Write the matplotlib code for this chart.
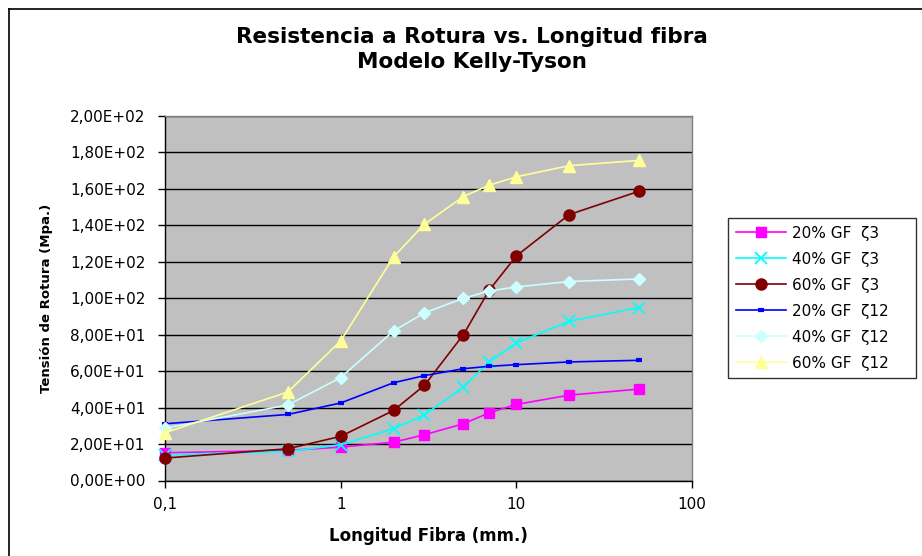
import matplotlib
matplotlib.use("Agg")
import matplotlib.pyplot as plt
from matplotlib.ticker import FixedLocator, FuncFormatter, NullLocator
from matplotlib.lines import Line2D

plt.rcParams['font.family'] = ['DejaVu Sans']

# Data
longitud = [0.1, 0.5, 1, 2, 3, 5, 7, 10, 20, 50]
gf20_z3 = [15.2, 16.5, 18.3, 21.0, 25.1, 31.1, 37.1, 41.7, 46.8, 50.1]
gf40_z3 = [14.1, 15.9, 19.6, 28.4, 36.0, 51.2, 65.0, 75.4, 87.3, 94.8]
gf60_z3 = [12.3, 17.4, 24.2, 38.4, 52.2, 80.0, 104.3, 123.1, 145.8, 158.6]
gf20_z12 = [31.1, 36.2, 42.5, 53.6, 57.5, 61.3, 62.6, 63.5, 65.0, 65.9]
gf40_z12 = [28.7, 41.4, 56.4, 82.0, 91.9, 99.9, 103.9, 106.1, 109.1, 110.5]
gf60_z12 = [26.2, 48.5, 76.5, 122.6, 140.5, 155.7, 161.9, 166.5, 172.6, 175.5]

labels = ["20% GF  ζ3", "40% GF  ζ3", "60% GF  ζ3",
          "20% GF  ζ12", "40% GF  ζ12", "60% GF  ζ12"]
series = [gf20_z3, gf40_z3, gf60_z3, gf20_z12, gf40_z12, gf60_z12]
x_ticks = [0.1, 1, 10, 100]
x_ticklabels = ["0,1", "1", "10", "100"]

styles = [
    dict(color="#FF00FF", marker="s", ms=7.5, mec="#FF00FF", mfc="#FF00FF", mew=1),
    dict(color="#00FFFF", marker="x", ms=8, mec="#00FFFF", mfc="#00FFFF", mew=1.3),
    dict(color="#800000", marker="o", ms=8, mec="#800000", mfc="#800000", mew=1),
    dict(color="#0000FF", marker="_", ms=5, mec="#0000FF", mfc="#0000FF", mew=3),
    dict(color="#CCFFFF", marker="D", ms=6.5, mec="#CCFFFF", mfc="#CCFFFF", mew=1),
    dict(color="#FFFF99", marker="^", ms=9, mec="#FFFF99", mfc="#FFFF99", mew=1),
]

fig = plt.figure(figsize=(9.22, 5.56), dpi=100)
fig.patch.set_facecolor("white")
ax = fig.add_axes([165/922, 1-480.5/556, (692-165)/922, (480.5-115.7)/556])
ax.set_facecolor("#C0C0C0")

for y, lab, st in zip(series, labels, styles):
    ax.plot(longitud, y, label=lab, lw=1.2, clip_on=False, zorder=3, **st)

ax.set_xscale("log")
ax.set_xlim(0.1, 100)
ax.set_ylim(0, 200)
ax.xaxis.set_major_locator(FixedLocator(x_ticks))
ax.xaxis.set_minor_locator(NullLocator())
ax.set_xticklabels(x_ticklabels)
ax.yaxis.set_major_locator(FixedLocator(list(range(0, 201, 20))))
ax.yaxis.set_major_formatter(FuncFormatter(lambda v, p: f"{v:.2E}".replace('.', ',')))
ax.grid(axis="y", color="black", lw=1.0, zorder=1)
ax.set_axisbelow(True)

for s in ["top", "right"]:
    ax.spines[s].set_color("#808080")
    ax.spines[s].set_linewidth(1.0)
for s in ["left", "bottom"]:
    ax.spines[s].set_color("black")
    ax.spines[s].set_linewidth(1.0)

ax.tick_params(axis="y", direction="out", length=5, width=1, labelsize=11, pad=9)
ax.tick_params(axis="x", direction="out", length=5, width=1, labelsize=11, pad=7)

ax.set_xlabel("Longitud Fibra (mm.)", fontsize=12, fontweight="bold", labelpad=11)
ax.set_ylabel("Tensión de Rotura (Mpa.)", fontsize=9.5, fontweight="bold", labelpad=12)

fig.text(472/922, 1-37/556, "Resistencia a Rotura vs. Longitud fibra",
         ha="center", va="center", fontsize=15.5, fontweight="bold")
fig.text(472/922, 1-62/556, "Modelo Kelly-Tyson",
         ha="center", va="center", fontsize=15.5, fontweight="bold")

# outer frame (top and left)
fig.add_artist(Line2D([9/922, 9/922], [0, 1-9/556], transform=fig.transFigure, color="black", lw=1.2))
fig.add_artist(Line2D([9/922, 1], [1-9/556, 1-9/556], transform=fig.transFigure, color="black", lw=1.2))

leg = fig.legend(loc="upper left", bbox_to_anchor=(728/922, 1-377/556, 188/922, 159/556),
                 mode="expand",
                 fontsize=11, frameon=True, fancybox=False, edgecolor="black",
                 handlelength=3.3, labelspacing=0.72, borderpad=0.5, handletextpad=0.4,
                 borderaxespad=0)
leg.get_frame().set_linewidth(1.0)

fig.savefig("out.png", dpi=100, facecolor="white")
